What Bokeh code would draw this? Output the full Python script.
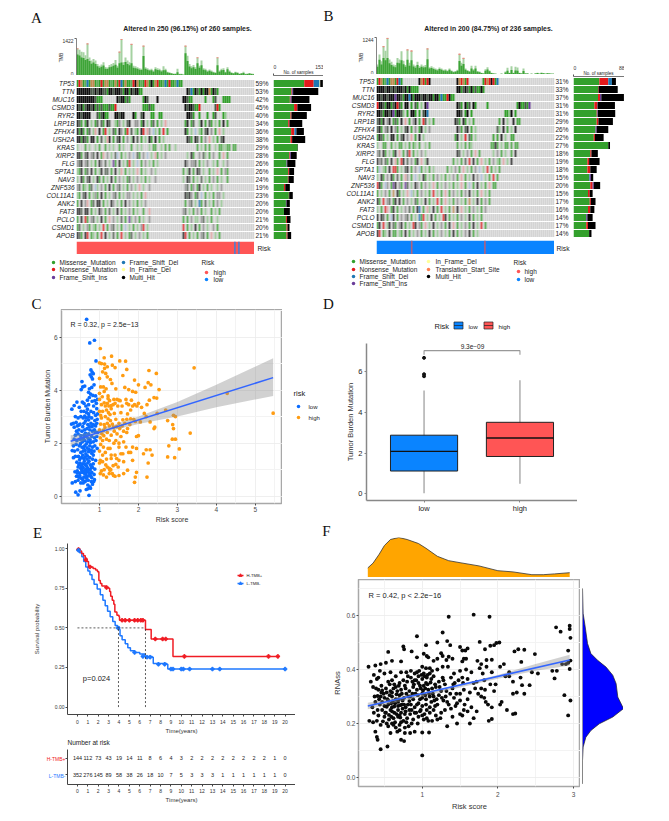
from bokeh.plotting import figure
from bokeh.models import Column, Range1d, FixedTicker, LinearAxis, NumeralTickFormatter, Grid
from bokeh.core.properties import value
from bokeh.embed import file_html
from bokeh.resources import INLINE

GENES_A = ["TP53","TTN","MUC16","CSMD3","RYR2","LRP1B","ZFHX4","USH2A","KRAS","XIRP2","FLG","SPTA1","NAV3","ZNF536","COL11A1","ANK2","FAT3","PCLO","CSMD1","APOB"]
PCT_A = ["59%","53%","42%","45%","40%","34%","36%","38%","29%","28%","26%","26%","24%","19%","23%","20%","20%","21%","20%","21%"]
PCT_B = ["31%","33%","37%","31%","31%","29%","26%","22%","27%","18%","19%","18%","15%","20%","15%","17%","16%","14%","17%","14%"]

A_missense = [94,55,50,63,52,45,54,52,74,48,40,45,44,32,47,38,32,38,40,40]
A_nonsense = [29,2,2,10,3,4,10,5,0,2,0,3,2,4,1,0,0,3,3,3]
A_fsdel = [18,0,0,0,0,0,6,0,0,0,0,0,0,0,0,0,0,0,0,0]
A_fsins = [0,3,3,0,0,0,0,0,0,3,2,0,0,0,0,2,0,0,0,0]
A_inframe = [2,0,0,0,0,0,0,0,0,0,0,0,0,0,0,0,0,0,0,0]
A_multi = [8,77,55,42,47,39,23,40,1,18,25,15,16,14,11,10,18,11,6,11]

B_missense = [44.6,42.3,42.3,36,40,40,38,35,60,29,24,24,27,29,25,28,25,22,22,27]
B_nonsense = [15.4,1,3.4,5,1,3,0,2,0,2,3,5,0,4,3,2,4,0,3,0]
B_fsdel = [6.3,0,0,0,0,0,0,0,0,0,0,0,1,0,0,0,0,0,0,0]
B_fsins = [0,0,2.3,.5,1,0,2,0,0,0,0,0,2,2,0,0,0,2,0,0]
B_inframe = [0]*20
B_multi = [6.9,33,39,30,30,25,20,15,3,11,18,11,4,11,5,8,7,9,13,4]

A_tmb_total = [1050,1000,920,900,790,1240,700,580,640,580,450,380,430,510,330,310,410,450,490,600,380,920,1410,510,700,580,510,1220,380,360,320,280,260,1150,320,280,230,260,190,320,280,260,200,360,260,150,130,100,80,80,260,65,65,40,1150,770,450,360,410,320,700,380,580,280,260,190,230,190,150,130,700,190,260,280,150,320,190,130,100,150,130,80,100,150,65,80,100,80,65]
A_tmb_dark = [820,780,700,680,600,640,560,460,500,450,360,300,340,390,260,250,320,340,380,420,300,480,500,410,520,450,400,480,300,280,260,220,210,760,260,220,190,200,150,240,210,200,160,200,200,120,100,80,60,60,130,50,50,30,860,560,350,280,320,250,480,300,400,220,200,150,180,150,120,100,400,150,200,210,120,240,150,100,80,120,100,60,80,100,50,60,80,60,50]
A_tip_cols = [0,5,21,22,27,33,54,60,70]
B_tmb_total = [340,680,450,960,810,1240,510,430,340,320,560,510,790,470,320,850,400,810,340,300,430,280,340,300,320,880,250,280,240,200,180,240,200,160,180,140,200,140,100,120,160,700,400,560,200,150,120,300,180,300,120,100,60,40,180,250,140,60,40,30,20,20,30,20,100,230,60,280,60,260,240,60,40,200,40,40,20,30,20,40,60,30,70,50,30,50,40,30,30]
B_tmb_dark = [260,500,340,560,480,560,380,320,270,250,400,380,480,350,260,500,300,480,270,230,320,220,260,240,250,520,200,220,190,160,140,190,160,130,140,110,160,110,80,95,130,460,300,360,160,120,95,200,140,200,95,80,50,30,130,170,110,50,30,25,16,16,25,16,70,130,50,150,50,140,130,50,30,120,30,30,16,25,16,30,50,25,50,40,25,40,30,25,25]
B_tip_cols = [3,5,15,17,25,41,43]

D = "."
ONCO_A = [
 "grogmbgoogmgrgoogmgogrbgoggmrkogmgrogkgorggmbgrggmbgg",
 "kkkkkkkddkdkkddgkkdkkkdgkkgkdkkgg"+D*22+"kdbgkdgkgkkogkdg",
 "kkkkkkkkkdggg"+D*7+"kdkkgdg"+D*6+"gkd"+D*4+"k"+D*12+"kkdgg"+D*6+"g"+D*3+"gd"+D*3+"gggg",
 "kdkgdkkdkgdgdgggdggr"+D*13+"gggdgg"+D*15+"kdkkdggr"+D*7+"drg",
 "kkdkkkk"+D*3+"dgdkgg"+D*3+"kkdkk"+D*4+"kg"+D*2+"dk"+D*3+"gg"+D*2+"gg"+D*12+"kkdg"+D*2+"g"+D*3+"g"+D*2+"gd"+D*3+"gl",
 "kdg.gk.l.gd.dg.kd..lga.l.dk..aa.gk.l.gd.g.l.p.."+D*7+"gk.gd..lk.g.dg.l.g.k.g",
 "kgkg.gd.lp.k.gr.l.dg.ka.gr.d.lg.kr.pa.sl.g.r.g."+D*7+"kg.l.s.lg.dk.a.g.p.l",
 "kkgkdg.kk.g.d.lpk.g.dk.g.a.lk.d.g.l.kg.k.g.l.."+D*9+"kdg.kd.g.a.p.l.g.dk",
 "l...g.l..l.g..g.l.l..g.l...g..l.l...l.gg..l.g.g..l.."+D*8+"g.l.g.g..l.ggllgg.gg",
 "kkg.dk.ad.k.gp.a.l.ds.g.l.a.s.dg.a.s.l.pg.l.a...."+D*6+"l.kg..a.dl.g.a..g.p.g",
 "adk.ad.l.g.ka.d.l.vg.k.l.gr.l.s.g.a.l.g.l.."+D*11+"ka.aad.g.l.a..l.g..l.a",
 "lgk.gd.k.g.lk.dd.g.k.lp.g.l.l.p.g.l..a.l..."+D*10+"g.lk.g.kd.l..g.l.p.g.ag",
 "l.kg.dk.l.kg.g.l.k.g.a.l.gd.l.a.l.g.l..a.."+D*11+"l.kd.g.l.d.l.g.a.g.l..g",
 "ad.gl.gd.sl.a.g.k.g.ad.l.g.a.l.p.l..a..."+D*14+"ad.ga.gk.l.g.l..l.a",
 "lg.dk.g.lag.k.g.l.ad.g.l.aa.l.l.g.p.."+D*17+"kdka.gd.s.g.l.g.aa.l",
 "g.k.ap.gd.kk.g.l.ka.l.g.k.a.l.g.l.a.."+D*17+"g.ad.l.bg.d.l.g.a.l",
 "kkd.kk.g.l.ka.g.d.l.k.g.l.a.g.l..g..p."+D*15+"ad.l.g.a.g.l..g.l.g",
 "g.k.rg.ad.l.k.g.p.a.l.d.g.vl.a.g.l..a."+D*15+"g.g.a.ll.ad.l.g..l",
 "gd.l.ag.lg.l.r.g.ad.l.g.s.l.g.l.ar.l.."+D*15+"r.g.l.k.g.a.l..a.g",
 "kdg.kr.gl.g.r.k.l.d.g.r.l.gd.l.a.l.g.."+D*15+"kr.g.l.g.ad.g.p.l.g",
]
ONCO_B = [
 "grogmbgoogrbg"+D*8+"korgrk"+D*13+"korogr"+D*7+"grorkrgb",
 "kkkkdkkdkdkkkdkgkgggg"+D*19+"kkgdkdgkgdggkg",
 "kkdkkdkkkvkkdgkkbkgkkkdkkdkkgkkgbggrkgg",
 "rkkdgkkgdkrdg.kk.g.dg.l.kv"+D*14+"kdg.kgd.kg"+D*5+"g"+D*14+"gkggdgv",
 "kkdgkkdkvgkkdl.g.kkg.g.dkb"+D*14+"kkd.gk.g"+D*16+"gglk.g",
 "dkgk.ak.gdg.k.p.g.ak.g.rd.l.g"+D*10+"kdg.kg.l.g"+D*12+"g.k.l..k.gg",
 "dkg.ad.k.ag.l.dk.g.a.gk.l.a"+D*13+"kag.dk.g.l"+D*10+"dl.k.g.l.k",
 "gkdg.l.kk.g.dk.a.p.g.k.l"+D*15+"gk.l.r.dg.l"+D*8+"g.g.k.l..gg",
 "l..gg..g.l.gg.l.g.gl.g..l.g."+D*12+"g.l.g.gl"+D*9+"ggkg.l.gg.g.gg",
 "ad.kg.l.gk.p.g.dr.g.l.a.l"+D*15+"kd.l.a.g.p.g"+D*6+"l.a.g.l..g.k",
 "kad.dg.k.pg.rk.d.a.gk.p.lk"+D*12+"g.l.g.d.r.k.g.p.l.g.a.lg.p.l.k",
 "gs.lg.k.rrg.l.dk.g.a.sg.l.g.l"+D*6+"g.l.a.g.p.l.g.a.s.l.r.g.l.g",
 "l.kg.a.kg.d.g.pa.g.s.l.kg.l.g.a.l.g.l.a.g.p.g.l.k.a.s.l.g.r.g",
 "rkg.sa.gvk.ag.vd.l.ka.g.a.l.p.g.l.a.l.g.l.p.g.s.g.k.l.g.p.gg",
 "g.l.a.g.o.kg.l.p.sl.g.a.l.g.r.l.g.p.g.a.l.g.a.k.l.g.p.l.g",
 "kg.r.ad.gk.k.g.a.l.dg.l.k.g.l.r.g.p.l.g.a.l.g.o.l.k.g.a.g",
 "l.g.rp.gk.g.l.a.d.g.kb.g.pl.k.g.r.l.g.o.k.p.l.g.a.l.g.a",
 "k.kd.g.sk.g.a.ad.g.l.bgr.l.k.g.l.rk.g.l.g.a.l.k.g.l.g",
 "gk.r.lk.dg.ak.g.l.rk.ag.p.l.k.l.a.g.k.p.g.l.a.g.k.l.r.g",
 "kr.gl.k.gg.lg.k.g.l.a.g.l.k.g.l.a.l.g.k.g.l.a.k.g.l",
]
ONCO_COLORS = {"g":"#33A02C","m":"#5FAF5A","l":"#8FC88C","k":"#111111","d":"#4A5A4A","a":"#8E8E8E","r":"#E31A1C","p":"#E8A0A0","b":"#1F78B4","s":"#A8C0DC","v":"#6A3D9A","o":"#C08A50","y":"#FFFF99"}
RISK_A_LOW_COLS = [78.8,80.8]
RISK_B_HIGH_COLS = [17.2,53.8]

C_low = [(.67,6.67),(.87,5.88),(.75,5.78),(.91,5.1),(.78,4.76),(.81,4.68),(.76,4.58),(.84,4.62),(.79,4.5),(.82,4.42),(.55,4.32),(.57,4.12),(.53,4.02),(.62,4.15),(.74,4.05),(.8,4.1),(.72,3.92),(.77,3.85),(.83,3.8),(.9,3.78),(.95,3.65),(.88,3.6),(.92,3.5),(.42,3.55),(.35,3.42),(.29,3.28),(.56,3.55),(.6,3.5),(.65,3.4),(.72,3.45),(.85,3.4),(.93,3.3),(.48,3.35),(.53,3.2),(.6,3.2),(.67,3.15),(.72,3.1),(.78,3.2),(.85,3.15),(.9,3.05),(.95,3.1),(.38,3.0),(.45,2.95),(.52,3.0),(.58,2.95),(.66,2.95),(.72,2.88),(.8,2.95),(.88,2.85),(.94,2.9),(.28,2.72),(.33,2.75),(.4,2.78),(.43,2.65),(.5,2.72),(.6,2.75),(.7,2.7),(.78,2.75),(.84,2.7),(.9,2.65),(.93,2.75),(.47,2.5),(.55,2.45),(.62,2.5),(.68,2.55),(.75,2.5),(.82,2.45),(.9,2.42),(.95,2.4),(.38,2.3),(.45,2.35),(.52,2.28),(.6,2.3),(.66,2.25),(.72,2.35),(.8,2.25),(.87,2.2),(.93,2.25),(.35,2.15),(.42,2.1),(.5,2.15),(.56,2.05),(.62,2.1),(.7,2.05),(.76,2.12),(.84,2.05),(.91,2.1),(.33,1.9),(.4,1.95),(.48,1.9),(.55,1.85),(.62,1.9),(.68,1.82),(.75,1.9),(.82,1.85),(.88,1.9),(.94,1.8),(.3,1.72),(.36,1.7),(.44,1.75),(.52,1.65),(.58,1.7),(.65,1.6),(.72,1.68),(.8,1.62),(.86,1.7),(.38,1.5),(.46,1.5),(.54,1.45),(.6,1.42),(.68,1.4),(.75,1.45),(.82,1.4),(.9,1.35),(.42,1.28),(.5,1.25),(.57,1.22),(.63,1.2),(.7,1.25),(.77,1.18),(.84,1.22),(.45,1.1),(.52,1.05),(.58,1.08),(.64,1.0),(.7,1.05),(.76,1.0),(.82,1.08),(.88,1.02),(.37,.92),(.43,.95),(.5,.88),(.56,.9),(.62,.85),(.68,.92),(.74,.86),(.8,.9),(.86,.82),(.41,.75),(.47,.72),(.53,.68),(.6,.72),(.66,.7),(.72,.76),(.8,.7),(.87,.62),(.3,.5),(.38,.55),(.45,.6),(.58,.5),(.63,.55),(.7,.42),(.75,.35),(.82,.45),(.66,.25),(.7,.28),(.77,.3),(.5,.2),(.39,.15),(.45,.05),(.73,.03),(.85,.55),
 (.62,3.02),(.69,3.28),(.74,2.63),(.57,2.62),(.64,2.37),(.81,2.62),(.59,2.18),(.66,1.97),(.71,2.18),(.51,1.98),(.73,1.77),(.79,1.73),(.63,1.72),(.69,1.52),(.57,1.55),(.49,1.38),(.61,1.32),(.67,1.13),(.73,1.32),(.79,1.12),(.55,.98),(.61,.95),(.71,.95),(.77,.78),(.65,.82),(.57,.62),(.71,.6),(.79,.55),(.49,.78),(.43,.87),(.54,1.15),(.84,1.55),(.77,2.02),(.87,2.5),(.69,3.62),(.81,3.58),(.74,3.72),(.86,4.2),(.64,2.83),(.73,3.0),(.47,1.18),(.52,.5),(.68,.62),(.63,1.48),(.59,1.82),(.54,2.18),(.47,2.68),(.41,2.45),(.35,2.6),(.33,1.45)]
C_high = [(1.02,5.57),(1.12,5.22),(1.31,5.28),(1.52,5.1),(1.67,5.09),(1.0,5.03),(1.05,5.0),(1.13,4.98),(1.33,4.94),(1.2,4.88),(1.13,4.82),(1.4,4.85),(1.7,4.78),(2.27,4.74),(1.08,4.69),(1.16,4.63),(2.46,4.63),(3.43,4.84),(1.0,4.44),(1.2,4.5),(1.28,4.4),(1.6,4.55),(1.9,4.38),(2.0,4.2),(1.03,4.12),(1.1,4.12),(1.32,4.25),(1.42,4.05),(1.65,4.1),(1.75,4.02),(1.85,3.95),(1.93,3.92),(2.17,4.1),(2.25,4.28),(2.32,4.2),(2.53,4.02),(1.0,3.88),(1.12,3.95),(1.22,3.78),(1.22,3.68),(1.26,3.6),(1.45,3.65),(1.5,3.62),(1.53,3.6),(2.4,3.72),(2.47,3.7),(2.28,3.62),(1.0,3.65),(1.05,3.45),(1.12,3.52),(1.2,3.5),(1.3,3.42),(1.35,3.45),(1.4,3.5),(1.47,3.4),(1.68,3.65),(1.7,3.5),(1.75,3.45),(1.82,3.62),(1.85,3.4),(1.9,3.45),(1.96,3.4),(2.0,3.5),(2.22,3.45),(2.7,3.25),(1.0,3.2),(1.08,3.2),(1.18,3.25),(1.23,3.15),(1.3,3.3),(1.38,3.12),(1.55,3.15),(1.72,3.1),(2.15,3.12),(2.2,3.0),(2.48,3.12),(2.9,3.05),(2.95,3.0),(1.05,2.95),(1.15,3.0),(1.22,2.92),(1.28,2.85),(1.42,2.9),(1.5,2.75),(1.6,2.88),(1.7,2.9),(1.8,2.92),(1.92,2.82),(2.05,2.8),(2.3,2.8),(2.75,2.85),(2.88,2.7),(1.03,2.72),(1.12,2.7),(1.2,2.75),(1.25,2.65),(1.36,2.6),(1.52,2.55),(1.62,2.45),(1.72,2.55),(1.78,2.7),(2.4,2.55),(2.42,2.6),(2.9,2.55),(1.0,2.5),(1.1,2.48),(1.2,2.4),(1.3,2.3),(1.38,2.45),(1.45,2.35),(1.55,2.25),(1.7,2.4),(1.95,2.25),(2.0,2.28),(3.33,2.38),(1.02,2.2),(1.08,2.1),(1.18,2.15),(1.42,2.1),(1.5,2.0),(1.62,2.05),(1.68,1.85),(2.87,2.15),(2.95,2.15),(1.03,1.95),(1.1,1.85),(1.22,1.8),(1.27,1.8),(1.5,1.85),(1.75,1.65),(1.85,1.85),(1.95,1.8),(2.13,1.6),(2.2,1.75),(2.3,1.75),(2.78,1.9),(3.05,1.78),(1.0,1.7),(1.15,1.65),(1.3,1.55),(1.4,1.55),(1.6,1.6),(1.8,1.65),(2.35,1.55),(1.02,1.35),(1.08,1.3),(1.18,1.4),(1.3,1.42),(1.5,1.35),(1.62,1.3),(1.85,1.35),(2.25,1.25),(2.75,1.48),(2.93,1.45),(1.0,1.25),(1.2,1.1),(1.25,1.05),(1.35,1.15),(1.48,1.1),(1.72,.98),(1.95,.9),(1.02,.85),(1.1,.8),(1.18,.72),(1.25,.85),(1.33,.85),(1.4,.75),(1.5,.78),(1.62,.85),(1.92,.72),(2.22,.72),(1.9,.52),(4.28,3.88),(5.46,3.13),
 (1.06,2.35),(1.14,2.6),(1.27,3.08),(1.33,2.72),(1.44,2.62),(1.58,2.65),(1.15,3.4),(1.24,3.4),(1.37,3.65),(1.08,1.55),(1.16,1.18),(1.29,1.0),(1.42,1.2),(1.55,1.6),(1.37,2.0),(1.11,2.28),(1.25,2.1),(1.03,3.05),(1.07,3.75),(1.17,4.05),(1.27,.98),(1.36,.78),(1.44,1.42),(1.05,.95),(1.12,1.0),(1.58,3.4),(1.8,3.25),(2.08,3.35),(1.65,2.75),(1.88,2.9)]
C_fit_x = [0.26,5.46]
C_fit_y = [2.07,4.47]
C_band_x = [.26,.6,1,1.3,2,3,4,5.46]
C_band_lo = [1.87,2.08,2.3,2.47,2.72,3.0,3.35,3.78]
C_band_hi = [2.3,2.35,2.52,2.66,3.0,3.55,4.2,5.2]

D_cats = [1,2]
D_q1 = [1.12,1.83]
D_med = [2.08,2.73]
D_q3 = [2.87,3.5]
D_lo = [.03,.5]
D_hi = [5.05,5.55]
D_outliers = [5.75,5.85,6.65]

KM_H_t = [0,.2,.4,.58,.75,.9,1.06,1.3,1.5,1.75,1.93,2.06,2.2,2.35,2.7,3,3.1,3.2,3.35,3.5,3.6,3.8,4,4.05,6.55,7.1,9.2,19.3]
KM_H_s = [1,.985,.97,.955,.94,.92,.89,.885,.875,.865,.855,.80,.78,.765,.755,.75,.73,.70,.675,.65,.60,.58,.57,.548,.49,.43,.32,.32]
KM_L_t = [0,.2,.42,.6,.8,1,1.2,1.4,1.6,1.9,2.2,2.45,2.67,2.9,3.15,3.4,3.63,3.85,4.05,4.1,4.3,4.6,4.85,5.1,5.5,6,6.5,7.2,7.3,8.6,8.7,20]
KM_L_s = [1,.975,.95,.92,.885,.86,.835,.805,.775,.745,.71,.675,.64,.605,.57,.54,.515,.505,.49,.45,.425,.40,.375,.355,.345,.335,.32,.315,.275,.27,.24,.24]
CENS_H_t = [.1,.8,1.2,2.8,4.3,4.6,5,5.5,5.8,6.1,6.3,7.5,8.2,8.5,10.3,18.4,19.3]
CENS_H_s = [.995,.93,.885,.755,.548,.548,.548,.548,.548,.548,.548,.43,.43,.43,.32,.32,.32]
CENS_L_t = [.1,3.9,5.5,6.3,6.7,7,7.8,8.4,9,9.2,10,10.2,10.8,13,13.7,20]
CENS_L_s = [.99,.5,.345,.32,.315,.315,.27,.27,.24,.24,.24,.24,.24,.24,.24,.24]
MEDIAN_T = [3.95,6.55]
RISK_TIMES = list(range(21))
RISK_H = [144,112,73,43,19,14,11,8,6,4,3,2,2,2,2,2,2,2,2,1,0]
RISK_L = [352,276,145,89,58,38,26,18,10,7,5,3,3,3,1,1,1,1,1,1,0]

F_pts = [(1.35,.595),(1.68,.603),(1.89,.595),(.93,.523),(1.27,.537),(2.77,.556),(2.83,.54),(2.95,.562),(2.95,.55),(2.96,.517),(2.93,.47),(2.96,.433),(2.95,.402),(2.96,.285),(2.93,.23),(2.88,.305),
(1.33,.505),(1.37,.49),(1.2,.50),(1.05,.49),(.75,.485),(.76,.475),(.86,.467),(.55,.465),(1.5,.483),(1.6,.478),(1.53,.47),(1.57,.47),(1.76,.502),(1.83,.475),(1.9,.488),(1.95,.49),(1.98,.498),(2.02,.5),(2.22,.467),(2.27,.475),(2.35,.473),(2.49,.457),
(.93,.445),(1.02,.458),(1.06,.45),(1.08,.445),(1.25,.46),(1.27,.45),(1.35,.447),(1.4,.44),(1.55,.44),(1.58,.44),(1.53,.43),(1.32,.435),(1.2,.44),(1.15,.432),(.45,.42),(.38,.415),(.29,.41),(.6,.432),(.52,.425),(.72,.43),(1.73,.432),(1.85,.435),(1.92,.436),(1.78,.42),(2.08,.42),(2.03,.41),(2.31,.428),
(.44,.395),(.36,.38),(.42,.37),(.5,.385),(.58,.39),(.65,.375),(.72,.39),(.79,.39),(.85,.395),(.9,.385),(.95,.375),(1.0,.41),(1.05,.405),(1.1,.405),(1.13,.395),(1.2,.4),(1.27,.41),(1.34,.41),(1.42,.385),(1.5,.395),(1.58,.4),(1.65,.39),(1.76,.405),(1.85,.41),(1.92,.39),(2.15,.39),(2.45,.39),(2.53,.385),(2.72,.395),(2.78,.395),(2.75,.367),(2.85,.42),(2.9,.42),(2.93,.425),
(.32,.355),(.4,.365),(.46,.34),(.35,.335),(.55,.355),(.6,.36),(.63,.345),(.7,.35),(.75,.36),(.8,.355),(.85,.37),(.9,.36),(.95,.35),(1.0,.365),(1.03,.375),(1.06,.37),(1.1,.385),(1.15,.375),(1.22,.355),(1.28,.36),(1.3,.345),(1.38,.37),(1.43,.35),(1.48,.36),(1.53,.37),(1.6,.365),(1.68,.35),(1.72,.355),(1.82,.36),(1.9,.345),(1.97,.345),(2.1,.375),(2.2,.355),(2.3,.37),(2.32,.342),(2.15,.375),(2.42,.342),
(.42,.325),(.47,.322),(.53,.315),(.58,.32),(.62,.33),(.67,.32),(.72,.325),(.78,.33),(.83,.32),(.88,.335),(.93,.325),(.98,.33),(1.02,.34),(1.08,.325),(1.13,.33),(1.18,.335),(1.25,.32),(1.32,.32),(1.4,.33),(1.45,.31),(1.55,.325),(1.63,.315),(1.78,.33),(1.83,.325),(1.95,.32),(2.2,.31),(2.25,.315),(2.35,.31),
(.45,.30),(.5,.295),(.55,.285),(.6,.3),(.65,.29),(.7,.305),(.76,.295),(.82,.3),(.88,.29),(.94,.305),(1.0,.295),(1.05,.29),(1.1,.3),(1.16,.285),(1.22,.305),(1.28,.285),(1.35,.27),(1.42,.295),(1.5,.285),(1.56,.27),(1.65,.26),(1.78,.3),(1.82,.295),(1.87,.27),(2.03,.27),(2.05,.28),
(.38,.28),(.44,.27),(.5,.265),(.55,.27),(.6,.26),(.64,.275),(.68,.265),(.73,.27),(.78,.26),(.85,.27),(.9,.26),(.95,.275),(1.0,.265),(1.05,.27),(1.1,.26),(1.17,.265),(1.25,.24),(1.55,.25),(1.6,.245),(1.72,.245),(1.92,.26),(2.12,.25),(2.2,.235),(2.23,.237),
(.47,.25),(.52,.24),(.58,.25),(.63,.24),(.68,.25),(.72,.24),(.78,.245),(.84,.235),(.9,.24),(.97,.245),(1.03,.235),(1.1,.24),(1.18,.23),(1.5,.235),(1.53,.23),(1.68,.22),(1.88,.21),(1.92,.217),
(.42,.23),(.5,.225),(.56,.215),(.62,.22),(.68,.225),(.75,.21),(.8,.22),(.88,.215),(.95,.225),(1.02,.215),(1.08,.21),(1.13,.21),(1.2,.215),(.3,.21),(.35,.205),(.45,.195),(.55,.19),(.6,.2),(.65,.185),(.7,.195),(.77,.185),(.9,.17),(.58,.165),(.7,.175),(.77,.165),(.84,.165),(.38,.17),(.4,.15),(.41,.14),(.72,.14),(.76,.135),(.45,.105),(.54,.115),(1.0,.167),(1.09,.167),(1.33,.19),(1.46,.2),(1.63,.2),(1.0,.082),
(.41,.302),(.47,.28),(.53,.262),(.49,.31),(.57,.305),(.61,.283),(.66,.308),(.71,.268),(.74,.285),(.79,.31),(.83,.283),(.86,.25),(.91,.31),(.93,.27),(.97,.29),(1.01,.322),(1.04,.305),(1.07,.345),(1.11,.352),(1.14,.31),(1.19,.29),(.51,.24),(.56,.232),(.59,.275),(.63,.263),(.66,.235),(.69,.29),(.71,.222),(.74,.255),(.77,.235),(.81,.27),(.83,.25),(.87,.31),(.89,.345),(.92,.36),(.96,.395),(.99,.38),(1.02,.385),(1.05,.35),(1.07,.38),(1.12,.365),(1.17,.345),(.48,.208),(.53,.2),(.59,.225),(.64,.205),(.67,.17),(.72,.205),(.79,.205),(.82,.19),(.43,.29),(.46,.315),(.52,.33),(.57,.345),(.6,.315),(.65,.335),(.69,.34),(.73,.31),(.77,.34),(.81,.375),(.87,.355),(.93,.39),(.97,.34),(1.0,.31),(1.04,.33),(1.09,.31),(1.15,.3),(1.23,.335),(1.27,.37),(1.31,.3),(1.37,.31),(1.41,.345),(1.46,.275),(1.5,.31),(1.54,.35),(1.6,.29),(1.7,.33),(1.74,.31),(1.8,.385),(1.84,.28),(.39,.33),(.37,.3),(.34,.26),(.36,.24),(.41,.25),(.4,.21),(.54,.29),(.6,.245),(.68,.28),(.76,.27),(.84,.3),(.92,.24),(.98,.25),(1.06,.25),(1.12,.28),(1.2,.27),(1.26,.295),(1.33,.28),(1.38,.255),(1.44,.265),(.62,.195),(.7,.23),(.86,.2),(.94,.2),(1.0,.23),(1.06,.22),(1.15,.25),(1.24,.22),(1.3,.25),(1.4,.225)]
F_fit_x = [.28,2.95]
F_fit_y = [.265,.435]
F_band_x = [.28,1,1.5,2,2.5,2.95]
F_band_lo = [.253,.3,.333,.366,.395,.415]
F_band_hi = [.277,.314,.345,.38,.42,.455]
F_top_x = [.28,.35,.43,.5,.58,.69,.8,.95,1.05,1.2,1.35,1.5,1.75,2.0,2.2,2.45,2.6,2.75,2.95]
F_top_d = [.24,.36,.58,.8,.95,1.0,.95,.85,.73,.53,.42,.37,.29,.17,.14,.07,.07,.09,.12]
F_right_y = [.701,.612,.564,.505,.469,.445,.421,.392,.362,.314,.273,.243,.219,.195,.171,.136,.088,.005]
F_right_d = [0,.016,.066,.123,.205,.369,.574,.738,.82,.861,1.0,.738,.41,.205,.082,.016,0,0]

GREY = "#4D4D4D"
def fig(box, xr, yr, L=0, R=0, T=0, B=0):
    x0, y0, x1, y1 = box
    p = figure(width=int(x1-x0+L+R), height=int(y1-y0+T+B), x_range=Range1d(*xr), y_range=Range1d(*yr),
               toolbar_location=None, output_backend="svg", min_border_left=L, min_border_right=R,
               min_border_top=T, min_border_bottom=B, outline_line_color=None, background_fill_color=None,
               border_fill_color=None, x_axis_type=None, y_axis_type=None, frame_align=False,
               styles={"position":"absolute","left":f"{x0-L}px","top":f"{y0-T}px"})
    return p

def style_axis(ax, size, color=GREY, line=GREY, lw=1, tick=2, standoff=5):
    ax.major_label_text_font = "Liberation Sans"
    ax.major_label_text_font_size = f"{size}px"
    ax.major_label_text_color = color
    ax.major_label_standoff = standoff
    ax.axis_line_color = line
    ax.axis_line_width = lw
    ax.major_tick_line_color = line
    ax.major_tick_out = tick
    ax.major_tick_in = 0
    ax.minor_tick_line_color = None
    ax.axis_label_text_font = "Liberation Sans"
    ax.axis_label_text_font_style = "normal"

def add_axis(p, side, ticks, size, **kw):
    ax = LinearAxis(ticker=FixedTicker(ticks=ticks))
    style_axis(ax, size, **kw)
    p.add_layout(ax, side)
    return ax

def label_axis(ax, text, size, standoff):
    ax.axis_label = text
    ax.axis_label_text_font_size = f"{size}px"
    ax.axis_label_standoff = standoff
    ax.axis_label_text_color = "#333333"

def grids(p, xt, xm, yt, ym):
    p.add_layout(Grid(dimension=0, ticker=FixedTicker(ticks=xt, minor_ticks=xm), grid_line_color="#EBEBEB", minor_grid_line_color="#F3F3F3", grid_line_width=.8))
    p.add_layout(Grid(dimension=1, ticker=FixedTicker(ticks=yt, minor_ticks=ym), grid_line_color="#EBEBEB", minor_grid_line_color="#F3F3F3", grid_line_width=.8))

children = []

def row_alpha(r):
    return 1.0 if r < 5 else (.82 if r < 8 else .68)

def oncoplot(tmb_box, onco_box, bar_box, risk_box, tmb_total, tmb_dark, tips, tmb_max, rows, pct, stacks, bar_max, risk_main, risk_other, other_cols):
    ncol = 89
    t = fig(tmb_box, (0, ncol), (0, tmb_max*1.01), L=20)
    xs = [i+.5 for i in range(len(tmb_total))]
    t.vbar(x=xs, width=1.0, bottom=0, top=tmb_total, color="#A5D2A2", line_color=None)
    t.vbar(x=xs, width=1.0, bottom=0, top=tmb_dark, color="#3DA437", line_color=None)
    t.vbar(x=[c+.5 for c in tips], width=1.0, bottom=[tmb_total[c]-35 for c in tips], top=[tmb_total[c]+10 for c in tips], color="#EE8A80", line_color=None)
    add_axis(t, "left", [0, tmb_max], 5, color="#333333", line="#666666", lw=.8, standoff=1)
    children.append(t)
    o = fig(onco_box, (0, ncol), (19.5, -.5), L=60, R=22)
    o.rect(x=[c+.5 for c in range(ncol)]*20, y=[r for r in range(20) for _ in range(ncol)], width=1, height=.88, color="#D4D4D4", line_color=None)
    for code, col in ONCO_COLORS.items():
        cx, cy, ca = [], [], []
        for r, s in enumerate(rows):
            for c, ch in enumerate(s[:ncol]):
                if ch == code:
                    cx.append(c+.5); cy.append(r); ca.append(row_alpha(r))
        if cx:
            o.rect(x=cx, y=cy, width=1.0, height=.88, fill_color=col, fill_alpha=ca, line_color=None)
    ticks = list(range(20))
    al = add_axis(o, "left", ticks, 6.5, color="#222222", line=None, tick=0, standoff=2)
    al.major_label_overrides = {i: GENES_A[i] for i in ticks}
    al.major_label_text_font_style = "italic"
    ar = add_axis(o, "right", ticks, 6.5, color="#222222", line=None, tick=0, standoff=1)
    ar.major_label_overrides = {i: pct[i] for i in ticks}
    children.append(o)
    x0, y0, x1, y1 = bar_box
    b = fig(bar_box, (0, bar_max), ((y1-onco_box[1])/8-.5, (y0-onco_box[1])/8-.5), T=16)
    left = [0.0]*20
    for vals, col in stacks:
        right = [l+v for l, v in zip(left, vals)]
        b.hbar(y=ticks, height=.88, left=left, right=right, color=col, line_color=None)
        left = right
    add_axis(b, "above", [0, bar_max], 5, color="#333333", line="#555555", lw=.8, tick=2, standoff=5)
    children.append(b)
    r = fig(risk_box, (0, ncol), (0, 1))
    r.quad(left=[0], right=[ncol], bottom=[0], top=[1], color=risk_main, line_color=None)
    r.quad(left=other_cols, right=[c+.8 for c in other_cols], bottom=0, top=1, color=risk_other, line_color=None)
    children.append(r)

STACK_COLORS = ["#33A02C","#E31A1C","#1F78B4","#6A3D9A","#FFFF99","#000000"]
oncoplot((76,38,254,75),(76,79,254,239),(273,75,323,239),(76,241,254,254),A_tmb_total,A_tmb_dark,A_tip_cols,1422,ONCO_A,PCT_A,
         list(zip([A_missense,A_nonsense,A_fsdel,A_fsins,A_inframe,A_multi],STACK_COLORS)),153,"#FF5555","#4D7FD0",RISK_A_LOW_COLS)
oncoplot((376,37,554,74),(376,77,554,237),(573,76,624,237),(376,240,554,254),B_tmb_total,B_tmb_dark,B_tip_cols,1244,ONCO_B,PCT_B,
         list(zip([B_missense,B_nonsense,B_fsdel,B_fsins,B_inframe,B_multi],STACK_COLORS)),88,"#0A84FF","#B06080",RISK_B_HIGH_COLS)

# Panel C
c = fig((61,309,282,503),(.024,5.70),(-.277,7.04),L=30,B=24)
c.outline_line_color = "#A8A8A8"; c.outline_line_width = 1.5
cx_ = add_axis(c,"below",[1,2,3,4,5],6.5,line=None,standoff=1); cx_.major_tick_line_color = GREY
cy_ = add_axis(c,"left",[0,2,4,6],6.5,line=None,standoff=2); cy_.major_tick_line_color = GREY
label_axis(cx_,"Risk score",7,1); label_axis(cy_,"Tumor Burden Mutation",7,0)
grids(c,[1,2,3,4,5],[.5,1.5,2.5,3.5,4.5,5.5],[0,2,4,6],[1,3,5,7])
c.scatter([q[0] for q in C_low],[q[1] for q in C_low],size=3.7,color="#0A6CFF",line_color=None)
c.scatter([q[0] for q in C_high],[q[1] for q in C_high],size=3.7,color="#FF9C12",line_color=None)
c.varea(x=C_band_x,y1=C_band_lo,y2=C_band_hi,color="#8C8C8C",alpha=.4)
c.line(C_fit_x,C_fit_y,line_color="#3366FF",line_width=1.5)
children.append(c)

# Panel D
d = fig((366,343,577,501),(.4,2.6),(-.32,7.35),L=30,B=14)
dx = add_axis(d,"below",D_cats,7.5,color="#222222",line="#888888",lw=1.5,standoff=1)
dx.major_label_overrides = {1:"low",2:"high"}
dy = add_axis(d,"left",[0,2,4,6],7.5,color="#222222",line="#888888",lw=1.5,standoff=2)
label_axis(dy,"Tumor Burden Mutation",7.5,0)
d.segment(x0=D_cats,x1=D_cats,y0=D_lo,y1=D_hi,line_color="#999999",line_width=1.2)
d.vbar(x=D_cats,width=.7,bottom=D_q1,top=D_q3,fill_color=["#0A84FF","#FF5555"],line_color="#222222",line_width=1)
d.segment(x0=[q-.35 for q in D_cats],x1=[q+.35 for q in D_cats],y0=D_med,y1=D_med,line_color="#111111",line_width=1.4)
d.scatter([1]*3,D_outliers,size=3,color="#111111")
d.line([1,1,2,2],[6.8,7.0,7.0,6.8],line_color="#999999",line_width=1.1)
children.append(d)

# Panel E
e = fig((67,543,295,718),(-.96,21),(-.047,1.033),L=44,B=18)
ex = add_axis(e,"below",RISK_TIMES,5,color="#333333",line="#444444",lw=1,standoff=3)
ey = add_axis(e,"left",[0,.25,.5,.75,1],5,color="#333333",line="#444444",lw=1,standoff=1)
ey.formatter = NumeralTickFormatter(format="0.00")
label_axis(ex,"Time(years)",6,1); label_axis(ey,"Survival probability",6,12)
e.step(KM_L_t,KM_L_s,mode="after",line_color="#1E78FF",line_width=1.5)
e.step(KM_H_t,KM_H_s,mode="after",line_color="#F01C24",line_width=1.5)
e.scatter(CENS_H_t,CENS_H_s,marker="plus",size=3.5,color="#F01C24")
e.scatter(CENS_L_t,CENS_L_s,marker="plus",size=3.5,color="#1E78FF")
e.line([0,MEDIAN_T[1]],[.5,.5],line_color="#333333",line_dash="2 2",line_width=.8)
e.segment(x0=MEDIAN_T,x1=MEDIAN_T,y0=[0,0],y1=[.5,.5],line_color="#333333",line_dash="2 2",line_width=.8)
children.append(e)

# Risk table
rt = fig((67,749,295,785),(-.96,21),(.41,2.53),L=10,B=20)
rx = add_axis(rt,"below",RISK_TIMES,5,color="#333333",line="#444444",lw=1,standoff=2)
label_axis(rx,"Time(years)",6,1)
ry = add_axis(rt,"left",[1,2],5,color="#333333",line="#444444",lw=1)
ry.major_label_overrides = {1:"",2:""}
rt.text(RISK_TIMES,[2]*21,text=[str(v) for v in RISK_H],text_font=value("Liberation Sans"),text_font_size="5.5px",text_align="center",text_baseline="middle",text_color="#222222")
rt.text(RISK_TIMES,[1]*21,text=[str(v) for v in RISK_L],text_font=value("Liberation Sans"),text_font_size="5.5px",text_align="center",text_baseline="middle",text_color="#222222")
children.append(rt)

# Panel F
f = fig((358,579,580,794),(.157,3.093),(-.033,.733),L=30,B=19)
f.outline_line_color="#A8A8A8"; f.outline_line_width=1.5
fx = add_axis(f,"below",[1,2,3],6.5,line=None,standoff=3); fx.major_tick_line_color=GREY
fy = add_axis(f,"left",[0,.2,.4,.6],6.5,line=None,standoff=1); fy.major_tick_line_color=GREY
fy.formatter = NumeralTickFormatter(format="0.0")
label_axis(fx,"Risk score",7.5,2); label_axis(fy,"RNAss",7.5,1)
grids(f,[1,2,3],[.5,1.5,2.5],[0,.2,.4,.6],[.1,.3,.5,.7])
f.scatter([q[0] for q in F_pts],[q[1] for q in F_pts],size=3.9,color="#0A0A0A",line_color=None)
f.varea(x=F_band_x,y1=F_band_lo,y2=F_band_hi,color="#8C8C8C",alpha=.4)
f.line(F_fit_x,F_fit_y,line_color="#3366FF",line_width=1.6)
children.append(f)

ft = fig((358,537,580,577),(.157,3.093),(0,1.0))
ft.varea(x=F_top_x,y1=[0]*len(F_top_x),y2=F_top_d,color="#FFA500")
ft.line(F_top_x,F_top_d,line_color="#333333",line_width=.8)
children.append(ft)

fr = fig((582,579,623,794),(0,1.0),(-.033,.733))
fr.harea(y=F_right_y,x1=[0]*len(F_right_y),x2=F_right_d,color="#0000FF")
fr.line(F_right_d,F_right_y,line_color="#222222",line_width=.7)
fr.line([0,0],[F_right_y[0],F_right_y[-1]],line_color="#444444",line_width=.8)
children.append(fr)

# Overlay for page-level texts and legends (page pixel coordinates)
ov = fig((8,8,661,813),(8,661),(813,8))
def T(x, y, s, size=6.5, font="Liberation Sans", align="left", color="#222222", style="normal", angle=0):
    ov.text([x],[y],text=[s],text_font=value(font),text_font_size=f"{size}px",text_align=align,text_baseline="middle",text_color=color,text_font_style=style,angle=angle)
def dot(x, y, col, size=3.5):
    ov.scatter([x],[y],size=size,color=col,line_color=None)

for s, x, y in [("A",36,17),("B",328,15),("C",36,303),("D",328,303),("E",37,532),("F",326,530)]:
    T(x,y,s,size=15,font="Liberation Serif",align="center",color="#111111")
T(187,28,"Altered in 250 (96.15%) of 260 samples.",size=6.9,align="center",style="bold")
T(488,28,"Altered in 200 (84.75%) of 236 samples.",size=6.9,align="center",style="bold")
T(61,57,"TMB",size=4.5,align="center",angle=1.5708)
T(361,57,"TMB",size=4.5,align="center",angle=1.5708)
T(298,72,"No. of samples",size=4.5,align="center")
T(598,73,"No. of samples",size=4.5,align="center")
T(257,248,"Risk",size=6.7)
T(556,248,"Risk",size=6.7)
C_M,C_N,C_FD,C_FI,C_IF,C_MH,C_TS = "#33A02C","#E31A1C","#1F78B4","#6A3D9A","#FFFF99","#000000","#FF7F50"
for x,tx,y,s,col in [(53,59,262,"Missense_Mutation",C_M),(53,59,269,"Nonsense_Mutation",C_N),(53,59,277,"Frame_Shift_Ins",C_FI),(123,129,262,"Frame_Shift_Del",C_FD),(123,129,269,"In_Frame_Del",C_IF),(123,129,277,"Multi_Hit",C_MH),
                     (353,359,261,"Missense_Mutation",C_M),(353,359,269,"Nonsense_Mutation",C_N),(353,359,276,"Frame_Shift_Del",C_FD),(353,359,283,"Frame_Shift_Ins",C_FI),(428,435,261,"In_Frame_Del",C_IF),(428,435,269,"Translation_Start_Site",C_TS),(428,435,276,"Multi_Hit",C_MH)]:
    dot(x,y,col); T(tx,y,s)
for x,dx_,tx,y0,y1,y2 in [(201,206,213,262,272,279),(513,518,524,262,271,279)]:
    T(x,y0,"Risk"); dot(dx_,y1,"#FF5555"); T(tx,y1,"high"); dot(dx_,y2,"#0A84FF"); T(tx,y2,"low")
T(70,324,"R = 0.32, p = 2.5e\u221213",size=7)
T(293,393,"risk",size=7.5)
dot(298,406,"#0A6CFF"); T(308,406,"low",size=6)
dot(298,417,"#FF9C12"); T(308,417,"high",size=6)
T(434,326,"Risk",size=7.5)
ov.rect([458,488],[325,325],width=9,height=7,fill_color=["#0A84FF","#FF5555"],line_color="#222222",line_width=.7)
ov.segment([453.5,483.5],[325,325],[462.5,492.5],[325,325],line_color="#222222",line_width=.7)
T(468,326,"low",size=6.2); T(498,326,"high",size=6.2)
T(472,346,"9.3e\u221209",size=6.5,align="center")
T(96,678,"p=0.024",size=7.5,align="center")
ov.line([237,243],[575,575],line_color="#F01C24",line_width=1.3)
ov.line([237,243],[583,583],line_color="#1E78FF",line_width=1.3)
ov.scatter([240],[575],marker="triangle",size=3,color="#F01C24")
ov.scatter([240],[583],marker="triangle",size=3,color="#1E78FF")
T(246,575,"H-TMB+",size=4.2); T(246,583,"L-TMB-",size=4.2)
T(67,742,"Number at risk",size=6.5)
T(65,758,"H-TMB+",size=5,align="right",color="#F01C24")
T(65,775,"L-TMB-",size=5,align="right",color="#1E78FF")
T(368,595,"R = 0.42, p < 2.2e\u221216",size=7.5)
children.append(ov)

root = Column(children=children, width=653, height=805)
open("out.html","w").write(file_html(root, INLINE))
